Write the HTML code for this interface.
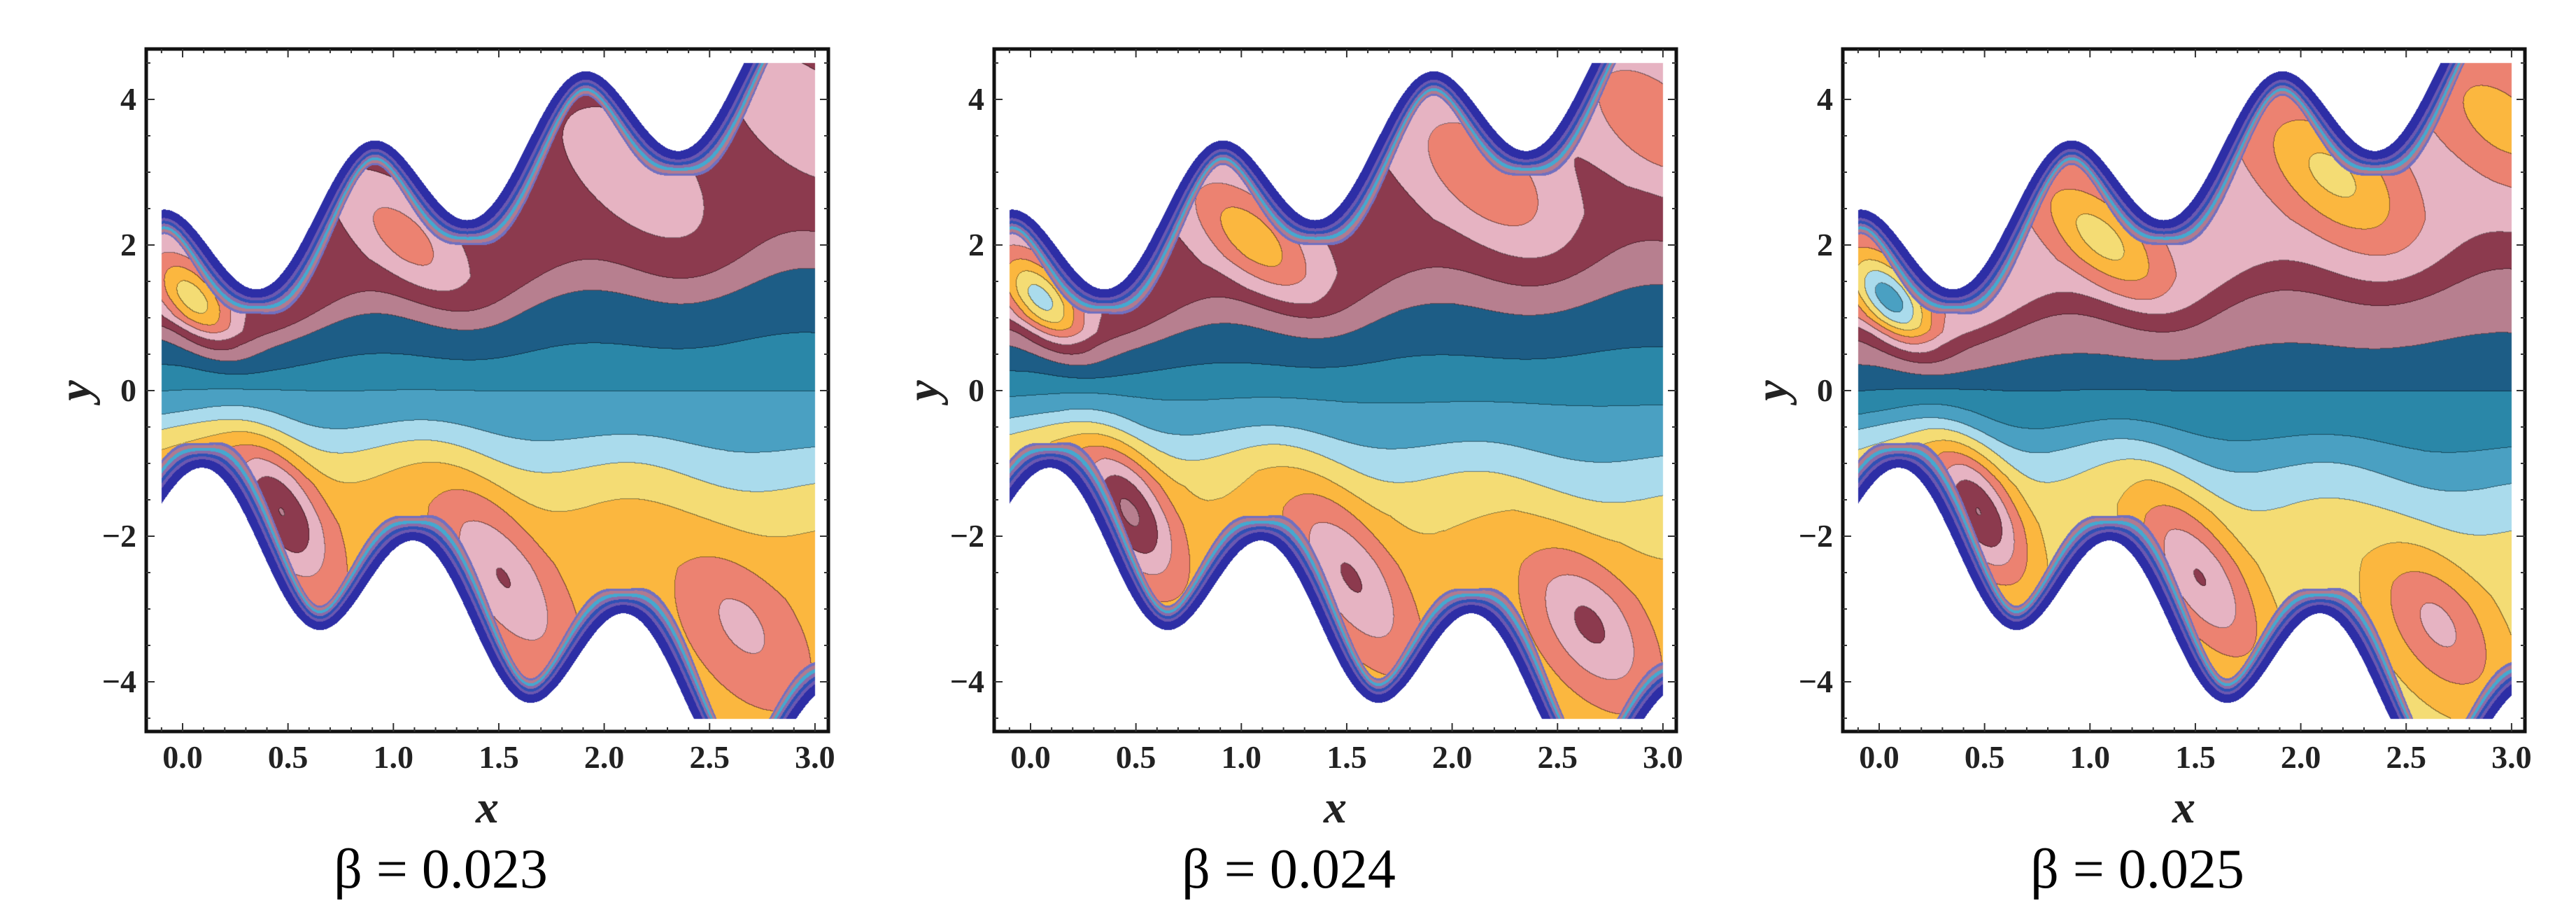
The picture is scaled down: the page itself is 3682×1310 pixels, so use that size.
<!DOCTYPE html>
<html><head><meta charset="utf-8">
<style>
html,body{margin:0;padding:0;background:#fff;}
#root{position:relative;width:3682px;height:1310px;overflow:hidden;background:#fff;}
canvas{position:absolute;}
svg{position:absolute;left:0;top:0;}
</style></head>
<body>
<div id="root">
<canvas id="c0" width="975" height="975" style="left:209px;top:70px"></canvas>
<canvas id="c1" width="975" height="975" style="left:1421px;top:70px"></canvas>
<canvas id="c2" width="975" height="975" style="left:2634px;top:70px"></canvas>
<svg id="ov" width="3682" height="1310"></svg>
</div>
<script>
// ---- data ----
const betas = [0.023, 0.024, 0.025];
const panelLeft = [209, 1421, 2634];
const levelOffset = [0, 0.25, 1];
const xTicks = [0, 0.5, 1, 1.5, 2, 2.5, 3];
const xTickLabels = ["0.0","0.5","1.0","1.5","2.0","2.5","3.0"];
const yTicks = [4, 2, 0, -2, -4];
const yTickLabels = ["4","2","0","\u22122","\u22124"];
// eddy centres (x,y) and strengths per panel
const eddyX = [0.05, 1.05, 2.15, 2.95, 0.47, 1.52, 2.65];
const eddyY = [1.25, 2.1, 2.95, 3.7, -1.65, -2.55, -3.2];
const eddyAmp1 = [4.2, 2.0, 1.3, 1.3, -3.6, -2.6, -1.8];
const eddyAmp2 = [4.8, 3.0, 2.2, 2.2, -4.0, -2.9, -3.0];
const eddyAmp3 = [5.2, 3.0, 2.8, 2.0, -4.6, -3.6, -2.8];
const eddyAmps = [eddyAmp1, eddyAmp2, eddyAmp3];
const palette = ["#2a87a8","#1d5d86","#b77f8f","#8c3a4e","#e6b3c2","#ec8271","#fbb73f","#f4dc74","#aadbec","#4aa0c2"];

// ---- geometry ----
const W = 975, H = 975, TOP = 70;
const X0 = 52, SX = 301.3;
const Y0 = 488, SY = 104;
const TAU = Math.PI * 2;
function px(x){ return X0 + x * SX; }
function py(y){ return Y0 - y * SY; }
function h1(x){ return 1.82 + 0.95*x + 0.77*Math.sin(TAU*(x-0.63)); }
function h2(x){ return -1.8 - x + 0.85*Math.sin(TAU*(x+0.13)); }
function hs(x){ return 1.7 + 0.8*x + 0.4*Math.sin(TAU*(x-0.65)); }
function hl(x){ return 1.7 + 0.8*x + 0.4*Math.sin(TAU*(x-0.4)); }
const eSa = [0.55,0.75,0.9,0.85,0.75,0.95,0.85];
const eSb = [0.28,0.36,0.48,0.48,0.36,0.42,0.48];
const eAng = [-50,-42,-40,-40,-62,-58,-55];
function interp(u, us, vs){
  if(u<=us[0]) return vs[0];
  for(let i=1;i<us.length;i++){ if(u<=us[i]){ const t=(u-us[i-1])/(us[i]-us[i-1]); return vs[i-1]+t*(vs[i]-vs[i-1]); } }
  return vs[vs.length-1];
}
const upU=[0,0.18,0.38,0.5,0.65,1], upV=[0,1,2,3,3.4,3.5];
const loU=[0,0.2,0.33,0.5,0.7,1], loV=[0,-1,-2,-3,-3.4,-3.5];
const stripeW=[12,4,4,4,4,4,3];
const stripeC=["#2d2ea6","#6b58b0","#2f50b5","#8a6aa8","#45a8d0","#b07a90","#7070c0"];
function hex(c){ return [parseInt(c.substr(1,2),16),parseInt(c.substr(3,2),16),parseInt(c.substr(5,2),16)]; }
const palRGB = palette.map(hex), stRGB = stripeC.map(hex);

function drawPanel(p){
  const cv = document.getElementById('c'+p), ctx = cv.getContext('2d');
  const img = ctx.createImageData(W,H), d = img.data;
  const amps = eddyAmps[p], off = levelOffset[p];
  const cosA = eAng.map(a=>Math.cos(a*Math.PI/180)), sinA = eAng.map(a=>Math.sin(a*Math.PI/180));
  const lev = new Int16Array(W*H);
  for(let j=0;j<H;j++){
    const y = (Y0 - j)/SY;
    for(let i=0;i<W;i++){
      const k=(j*W+i), x=(i-X0)/SX;
      let r=255,g=255,b=255; lev[k]=-999;
      if(x>=-0.1 && x<=3.0 && y<=4.5 && y>=-4.5){
        const a1=h1(x), a2=h2(x);
        if(y<a1 && y>a2){
          const s1=(h1(x+0.001)-a1)/0.001*SY/SX, s2=(h2(x+0.001)-a2)/0.001*SY/SX;
          const d1=(a1-y)*SY/Math.sqrt(1+s1*s1), d2=(y-a2)*SY/Math.sqrt(1+s2*s2);
          const dw=Math.min(d1,d2);
          let acc=0, si=-1;
          for(let s=0;s<stripeW.length;s++){ acc+=stripeW[s]; if(dw<acc){ si=s; break; } }
          if(si>=0){ [r,g,b]=stRGB[si]; lev[k]=-500-si; }
          else{
            let v = y>=0 ? interp(y/hs(x),upU,upV) : interp(-y/hl(x),loU,loV);
            v += off;
            for(let e=0;e<eddyX.length;e++){
              const dx=(x-eddyX[e])*3, dy=y-eddyY[e];
              const ua=dx*cosA[e]+dy*sinA[e], ub=-dx*sinA[e]+dy*cosA[e];
              const q=(ua*ua)/(eSa[e]*eSa[e])+(ub*ub)/(eSb[e]*eSb[e]);
              if(q<12) v += amps[e]*Math.exp(-q/2);
            }
            const L=Math.floor(v); lev[k]=L;
            [r,g,b]=palRGB[((L%10)+10)%10];
          }
        }
      }
      d[k*4]=r; d[k*4+1]=g; d[k*4+2]=b; d[k*4+3]=255;
    }
  }
  for(let j=0;j<H-1;j++) for(let i=0;i<W-1;i++){
    const k=j*W+i, L=lev[k];
    if(L>-400 && ((lev[k+1]>-400 && lev[k+1]!==L) || (lev[k+W]>-400 && lev[k+W]!==L))){
      d[k*4]*=0.55; d[k*4+1]*=0.55; d[k*4+2]*=0.55;
    }
  }
  ctx.putImageData(img,0,0);
}
[0,1,2].forEach(drawPanel);

// ---- axes overlay ----
const NS="http://www.w3.org/2000/svg", ov=document.getElementById('ov');
function mk(tag, attrs, parent){ const e=document.createElementNS(NS,tag); for(const a in attrs) e.setAttribute(a,attrs[a]); (parent||ov).appendChild(e); return e; }
betas.forEach((beta,p)=>{
  const L=panelLeft[p];
  const g=mk('g',{});
  
  
  const fr=mk('rect',{x:L,y:TOP,width:W,height:H,fill:'none',stroke:'#111','stroke-width':5},g);
  
  
  for(let t=-1;t<=30;t++){
    const xx=L+px(t/10), major=(t%5===0);
    const len=major?12:6;
    const tk=mk('path',{d:`M${xx},${TOP+H}v${-len}M${xx},${TOP}v${len}`,stroke:'#333','stroke-width':2},g);
    
    
  }
  for(let t=-9;t<=9;t++){
    const yy=TOP+py(t/2), major=(t%4===0);
    const len=major?12:6;
    const tk=mk('path',{d:`M${L},${yy}h${len}M${L+W},${yy}h${-len}`,stroke:'#333','stroke-width':2},g);
    
    
  }
  xTicks.forEach((v,i)=>{
    const t=mk('text',{x:L+px(v),y:1097,'text-anchor':'middle','font-family':'Liberation Serif, serif','font-weight':'bold','font-size':46,fill:'#222'},g);
    t.textContent=xTickLabels[i];
    
    
  });
  yTicks.forEach((v,i)=>{
    const t=mk('text',{x:L-14,y:TOP+py(v)+15,'text-anchor':'end','font-family':'Liberation Serif, serif','font-weight':'bold','font-size':46,fill:'#222'},g);
    t.textContent=yTickLabels[i];
    
    
  });
  const xl=mk('text',{x:L+W/2,y:1175,'text-anchor':'middle','font-family':'Liberation Serif, serif','font-weight':'bold','font-style':'italic','font-size':66,fill:'#222'},g);
  xl.textContent='x';
  
  
  const yl=mk('text',{x:0,y:0,transform:`translate(${L-80},${TOP+Y0}) rotate(-90)`,'text-anchor':'middle','font-family':'Liberation Serif, serif','font-weight':'bold','font-style':'italic','font-size':66,fill:'#222'},g);
  yl.textContent='y';
  
  
  const bl=mk('text',{x:L+421,y:1268,'text-anchor':'middle','font-family':'Liberation Serif, serif','font-size':80,fill:'#000'},g);
  bl.textContent='\u03B2 = '+beta.toFixed(3);
  
  
});
</script>
</body></html>
